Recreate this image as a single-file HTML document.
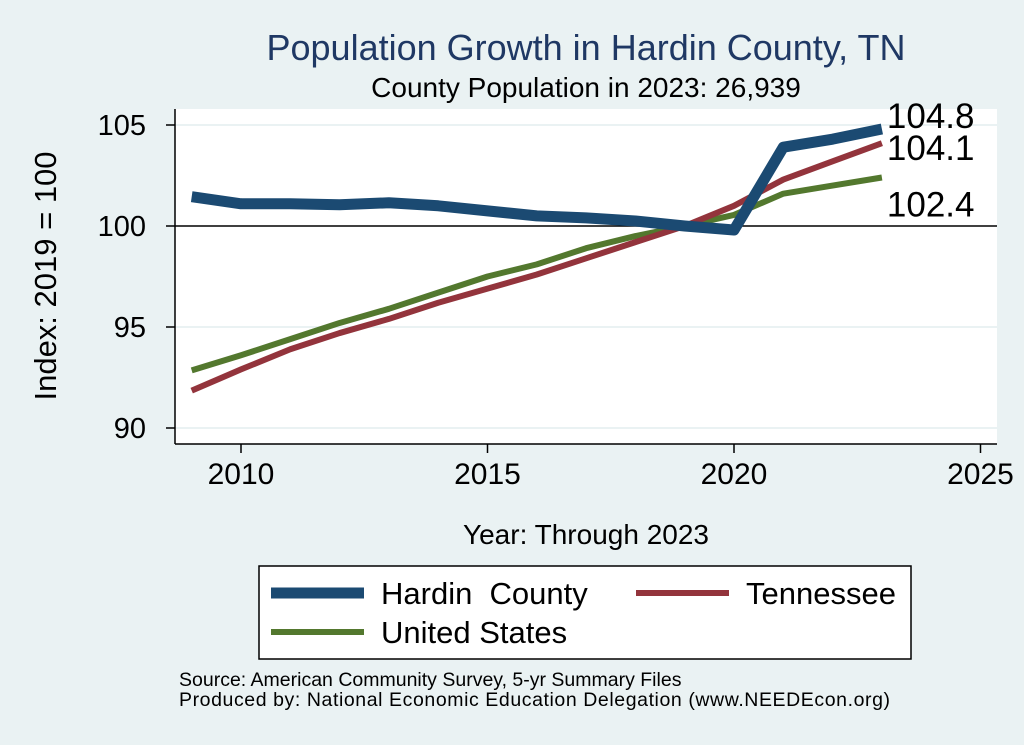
<!DOCTYPE html>
<html><head><meta charset="utf-8"><style>
body{margin:0;background:#eaf2f3;}
svg{display:block;font-family:"Liberation Sans",Arial,sans-serif;}
</style></head><body>
<svg width="1024" height="745" viewBox="0 0 1024 745">
<rect x="0" y="0" width="1024" height="745" fill="#eaf2f3"/>
<text x="586" y="60" font-size="36" fill="#1f3864" text-anchor="middle">Population Growth in Hardin County, TN</text>
<text x="586" y="97" font-size="28" fill="#000" text-anchor="middle">County Population in 2023: 26,939</text>
<rect x="175" y="109" width="822" height="335" fill="#fff"/>
<g id="grid"></g>
<g id="axes"></g>
<g id="series"></g>
<text x="56" y="276" font-size="31" text-anchor="middle" transform="rotate(-90 56 276)">Index: 2019 = 100</text>
<text x="586" y="544" font-size="28" text-anchor="middle">Year: Through 2023</text>
<g>
<rect x="259" y="566" width="652" height="93" fill="#fff" stroke="#000" stroke-width="1.5"/>
<line x1="271" y1="593" x2="364" y2="593" stroke="#1b4a72" stroke-width="11"/>
<text x="381" y="604" font-size="31">Hardin&#160; County</text>
<line x1="636" y1="593" x2="729" y2="593" stroke="#93343c" stroke-width="6"/>
<text x="746" y="604" font-size="31">Tennessee</text>
<line x1="271" y1="632" x2="364" y2="632" stroke="#53782e" stroke-width="6"/>
<text x="381" y="643" font-size="31">United States</text>
</g>
<text x="179" y="686" font-size="19.5">Source: American Community Survey, 5-yr Summary Files</text>
<text x="179" y="706" font-size="19.5" textLength="711">Produced by: National Economic Education Delegation (www.NEEDEcon.org)</text>
</svg>
<script>
const years=[2009,2010,2011,2012,2013,2014,2015,2016,2017,2018,2019,2020,2021,2022,2023];
const hardin=[101.45,101.1,101.1,101.05,101.15,101.0,100.75,100.5,100.4,100.25,100,99.8,103.9,104.3,104.8];
const tennessee=[91.85,92.9,93.9,94.7,95.4,96.2,96.9,97.6,98.4,99.2,100,101.0,102.3,103.2,104.1];
const unitedStates=[92.85,93.6,94.4,95.2,95.9,96.7,97.5,98.1,98.9,99.5,100,100.55,101.6,102.0,102.4];
const xTicks=[2010,2015,2020,2025];
const yTicks=[90,95,100,105];
const endLabels=["104.8","104.1","102.4"];
const NS="http://www.w3.org/2000/svg";
function X(v){return 241+(v-2010)*49.3;}
function Y(v){return 226-(v-100)*20.2;}
function mk(tag,attrs,parent,txt){const e=document.createElementNS(NS,tag);for(const k in attrs)e.setAttribute(k,attrs[k]);if(txt!==undefined)e.textContent=txt;parent.appendChild(e);return e;}
const grid=document.getElementById('grid'),axes=document.getElementById('axes'),ser=document.getElementById('series');
yTicks.forEach(t=>{
 if(t!==100){const g=mk('line',{x1:175,x2:997,y1:Y(t),y2:Y(t),stroke:'#eaf2f3','stroke-width':2},grid);
 
 }
 const tk=mk('line',{x1:166,x2:175,y1:Y(t),y2:Y(t),stroke:'#000','stroke-width':1.5},axes);
 
 
 const lb=mk('text',{x:146,y:Y(t)+10,'font-size':29,'text-anchor':'end'},axes,String(t));
 
 
});
const ref=mk('line',{x1:175,x2:997,y1:Y(100),y2:Y(100),stroke:'#000','stroke-width':1.5},grid);


const ya=mk('line',{x1:175,x2:175,y1:109,y2:444,stroke:'#000','stroke-width':1.5},axes);


const xa=mk('line',{x1:175,x2:997,y1:444,y2:444,stroke:'#000','stroke-width':1.5},axes);


xTicks.forEach(t=>{
 const tk=mk('line',{x1:X(t),x2:X(t),y1:444,y2:453,stroke:'#000','stroke-width':1.5},axes);
 
 
 const lb=mk('text',{x:X(t),y:484,'font-size':30,'text-anchor':'middle'},axes,String(t));
 
 
});
function line(vals,color,w,name){
 const p=mk('polyline',{points:vals.map((v,i)=>X(years[i])+','+Y(v)).join(' '),fill:'none',stroke:color,'stroke-width':w,'stroke-linejoin':'round'},ser);
 
 
}
line(unitedStates,'#53782e',6,'line-united-states');
line(tennessee,'#93343c',6,'line-tennessee');
line(hardin,'#1b4a72',11,'line-hardin-county');
const lx=X(2023)+5;
const l1=mk('text',{x:lx,y:Y(hardin[14])-1,'font-size':35},ser,endLabels[0]);


const l2=mk('text',{x:lx,y:Y(tennessee[14])+17,'font-size':35},ser,endLabels[1]);


const l3=mk('text',{x:lx,y:Y(unitedStates[14])+39,'font-size':35},ser,endLabels[2]);


</script>
</body></html>
